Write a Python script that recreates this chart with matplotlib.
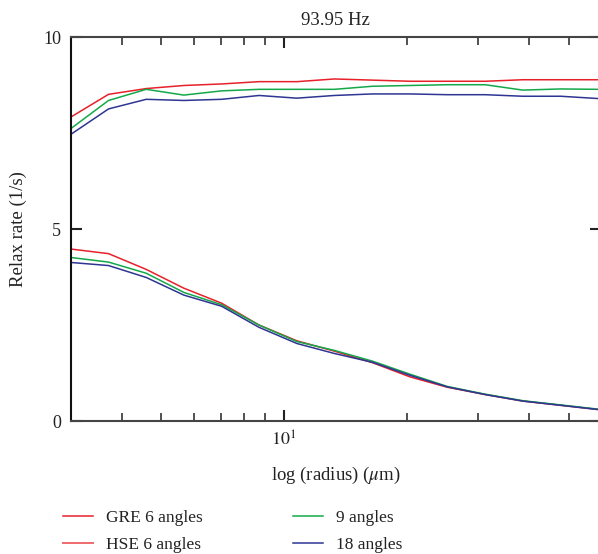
import numpy as np
import matplotlib
matplotlib.use("Agg")
import matplotlib.pyplot as plt
from matplotlib.ticker import FixedLocator, NullFormatter

plt.rcParams['font.family'] = ['Liberation Serif', 'DejaVu Serif']
plt.rcParams['mathtext.fontset'] = 'stix'

# radius (um), log spaced sample points
radius = [3.0, 3.71, 4.59, 5.68, 7.03, 8.69, 10.76, 13.3, 16.5, 20.4,
          25.2, 31.2, 38.6, 47.8, 59.1]

# upper group (GRE)
gre_6 = [7.92, 8.51, 8.66, 8.74, 8.78, 8.84, 8.84, 8.91, 8.88, 8.85,
         8.85, 8.85, 8.89, 8.89, 8.89]
gre_9 = [7.62, 8.35, 8.64, 8.49, 8.60, 8.64, 8.64, 8.64, 8.72, 8.74,
         8.76, 8.76, 8.62, 8.65, 8.64]
gre_18 = [7.47, 8.13, 8.38, 8.35, 8.38, 8.48, 8.41, 8.48, 8.52, 8.52,
          8.50, 8.50, 8.46, 8.46, 8.40]

# lower group (HSE)
hse_6 = [4.48, 4.36, 3.95, 3.46, 3.07, 2.50, 2.09, 1.82, 1.52, 1.15,
         0.88, 0.69, 0.52, 0.41, 0.30]
hse_9 = [4.26, 4.14, 3.85, 3.35, 3.03, 2.50, 2.07, 1.84, 1.56, 1.22,
         0.90, 0.70, 0.53, 0.42, 0.31]
hse_18 = [4.13, 4.05, 3.74, 3.28, 2.99, 2.44, 2.02, 1.76, 1.53, 1.19,
          0.89, 0.69, 0.52, 0.41, 0.30]

red = '#e8202a'
red_light = '#f06a6a'
green = '#14a84a'
blue = '#2e3592'
txt = '#222222'

fig = plt.figure(figsize=(5.98, 5.54), dpi=100)
ax = fig.add_axes([0.1187, 0.240, 0.886, 0.693])

ax.plot(radius, gre_6, color=red, lw=1.1)
ax.plot(radius, hse_6, color=red, lw=1.1)
ax.plot(radius, gre_9, color=green, lw=1.1)
ax.plot(radius, hse_9, color=green, lw=1.1)
ax.plot(radius, gre_18, color=blue, lw=1.1)
ax.plot(radius, hse_18, color=blue, lw=1.1)

# legend-only handles
h_gre, = ax.plot([], [], color=red, lw=1.1)
h_hse, = ax.plot([], [], color=red_light, lw=1.4)
h_9, = ax.plot([], [], color=green, lw=1.1)
h_18, = ax.plot([], [], color=blue, lw=1.1)

ax.set_xscale('log')
ax.set_xlim(3, 60)
ax.set_ylim(0, 10)

ax.xaxis.set_major_locator(FixedLocator([10]))
ax.xaxis.set_minor_locator(FixedLocator([4, 5, 6, 7, 8, 9, 20, 30, 40, 50]))
ax.xaxis.set_minor_formatter(NullFormatter())
ax.set_xticklabels([r'$10^1$'])
ax.set_yticks([0, 5, 10])

ax.tick_params(which='major', direction='in', length=8, width=1.5,
               top=True, right=True, labelsize=13, colors=txt, pad=7)
ax.tick_params(which='minor', direction='in', length=6, width=1.1,
               top=True, right=True, colors=txt)

for s in ax.spines.values():
    s.set_color('#444444')
    s.set_linewidth(1.5)
ax.spines['left'].set_color('#111111')

ax.set_title('93.95 Hz', fontsize=13.5, pad=9, color=txt)
ax.set_xlabel(r'log (radius) ($\mu$m)', fontsize=13.5, labelpad=11, color=txt)
ax.set_ylabel('Relax rate (1/s)', fontsize=13.5, labelpad=12, color=txt)

# two legend columns placed separately
leg_kw = dict(frameon=False, loc='upper left', fontsize=12.5,
              handlelength=1.75, handletextpad=0.75, labelspacing=0.62,
              borderaxespad=0, borderpad=0, labelcolor=txt)
fig.legend([h_gre, h_hse], ['GRE 6 angles', 'HSE 6 angles'],
           bbox_to_anchor=(0.105, 0.079), **leg_kw)
fig.legend([h_9, h_18], ['9 angles', '18 angles'],
           bbox_to_anchor=(0.490, 0.079), **leg_kw)

fig.savefig('out.png', dpi=100)
